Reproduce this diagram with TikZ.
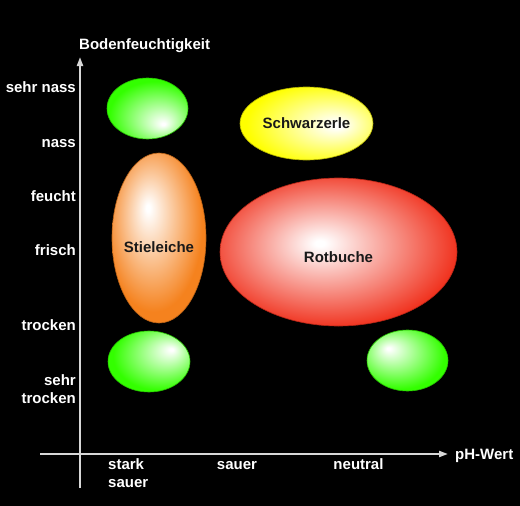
\documentclass[tikz,border=0pt]{standalone}
\usepackage{fontspec}
\setmainfont{Liberation Sans}
\usetikzlibrary{shapes.geometric,arrows.meta}

\definecolor{leafgreen}{RGB}{51,255,0}
\definecolor{oakorange}{RGB}{245,130,30}
\definecolor{alderyellow}{RGB}{255,255,0}
\definecolor{beechred}{RGB}{240,50,30}
\definecolor{axisgray}{RGB}{215,215,215}

% highlights sit off centre, so one shading per ellipse
\pgfdeclareradialshading{greenlowright}{\pgfpoint{10bp}{-13bp}}{color(0bp)=(white); color(1bp)=(white); color(28bp)=(leafgreen); color(50bp)=(leafgreen)}
\pgfdeclareradialshading{greenupright}{\pgfpoint{14bp}{10bp}}{color(0bp)=(white); color(1bp)=(white); color(28bp)=(leafgreen); color(50bp)=(leafgreen)}
\pgfdeclareradialshading{greenupleft}{\pgfpoint{-12bp}{10bp}}{color(0bp)=(white); color(1bp)=(white); color(28bp)=(leafgreen); color(50bp)=(leafgreen)}
\pgfdeclareradialshading{oakshade}{\pgfpoint{-6bp}{9bp}}{color(0bp)=(white); color(1bp)=(white); color(26bp)=(oakorange); color(50bp)=(oakorange)}
\pgfdeclareradialshading{aldershade}{\pgfpoint{12bp}{-1bp}}{color(0bp)=(white); color(2bp)=(white); color(28bp)=(alderyellow); color(50bp)=(alderyellow)}
\pgfdeclareradialshading{beechshade}{\pgfpoint{-4bp}{3bp}}{color(0bp)=(white); color(1bp)=(white); color(27bp)=(beechred); color(50bp)=(beechred)}

\tikzset{
  axis/.style={axisgray,line width=2pt},
  bigbold/.style={font=\bfseries\fontsize{15}{18}\selectfont},
  scalelabel/.style={bigbold,text=white,inner sep=0pt},
  tree/.style={ellipse,inner sep=0pt,line width=0.6pt,text=black!90,bigbold},
  treename/.style={bigbold,text=black!90}
}

\begin{document}
\begin{tikzpicture}[x=1pt,y=-1pt,>={Triangle[length=9pt,width=6pt]}]

\fill[black] (0,0) rectangle (520,506);
\useasboundingbox (0,0) rectangle (520,506);

% axes
\coordinate (xfrom) at (40,454);
\coordinate (xto) at (448,454);
\coordinate (yfrom) at (80,488);
\coordinate (yto) at (80,57);
\draw[axis,->] (xfrom) -- (xto);
\draw[axis,->] (yfrom) -- (yto);

\node[scalelabel,anchor=base west] (ylabel) at (79,49) {Bodenfeuchtigkeit};
\node[scalelabel,anchor=base west] (xlabel) at (455,459) {pH-Wert};

% moisture scale
\node[scalelabel,anchor=base east] (sehrnass) at (76,92) {sehr nass};
\node[scalelabel,anchor=base east] (nass) at (76,147) {nass};
\node[scalelabel,anchor=base east] (feucht) at (76,201.5) {feucht};
\node[scalelabel,anchor=base east] (frisch) at (76,255.5) {frisch};
\node[scalelabel,anchor=base east] (trocken) at (76,330) {trocken};
\node[scalelabel,anchor=base east,align=right] (sehrtrocken) at (76,403) {sehr\\trocken};

% pH scale
\node[scalelabel,anchor=base west,align=left] (starksauer) at (108,487) {stark\\sauer};
\node[scalelabel,anchor=base] (sauer) at (237,469) {sauer};
\node[scalelabel,anchor=base] (neutral) at (358.5,469) {neutral};

% trees
\node[tree,shading=greenlowright,draw=leafgreen!75!black,minimum width=81pt,minimum height=61pt] (wetacid) at (147.5,108.5) {};
\node[tree,shading=oakshade,draw=oakorange!75!black,minimum width=94pt,minimum height=170pt,
  label={[treename,yshift=-9pt]center:Stieleiche}] (stieleiche) at (159,238) {};
\node[tree,shading=aldershade,draw=alderyellow!70!black,minimum width=133pt,minimum height=73pt] (schwarzerle) at (306.5,123.5) {Schwarzerle};
\node[tree,shading=beechshade,draw=beechred!75!black,minimum width=237pt,minimum height=148pt,
  label={[treename,yshift=-5pt]center:Rotbuche}] (rotbuche) at (338.5,252) {};
\node[tree,shading=greenupright,draw=leafgreen!75!black,minimum width=82pt,minimum height=61pt] (dryacid) at (149,361.5) {};
\node[tree,shading=greenupleft,draw=leafgreen!75!black,minimum width=81pt,minimum height=61pt] (dryneutral) at (407.5,360.5) {};

\end{tikzpicture}
\end{document}
